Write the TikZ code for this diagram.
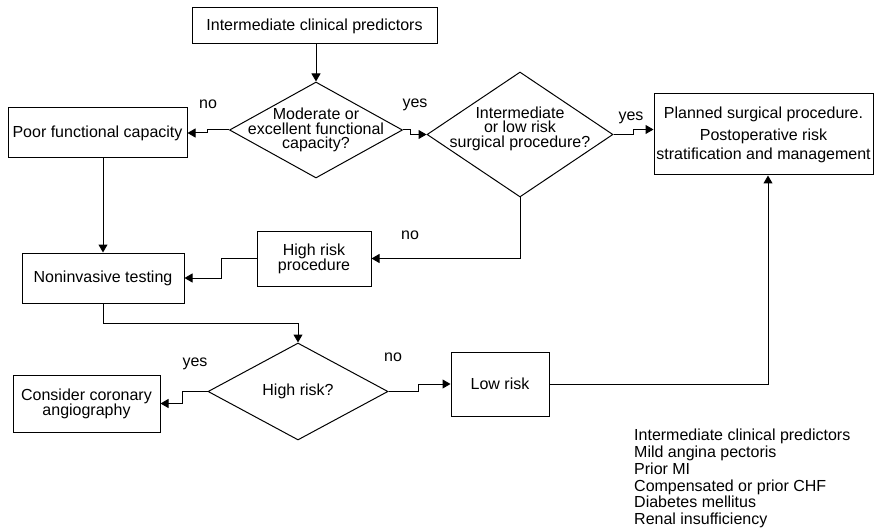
\documentclass[tikz,border=0pt]{standalone}
\usepackage{fontspec}
\setmainfont{Liberation Sans}
\usetikzlibrary{shapes.geometric,arrows.meta}

\begin{document}
\begin{tikzpicture}[x=1pt,y=-1pt,
  every node/.style={font=\fontsize{16}{15}\selectfont},
  box/.style={draw,line width=1pt,rectangle,inner sep=2pt,align=center},
  decision/.style={draw,line width=1pt,diamond,inner sep=0pt},
  dtext/.style={align=center,inner sep=0pt,font=\fontsize{16}{14.6}\selectfont},
  arr/.style={line width=1pt,-{Triangle[length=8pt,width=9pt]}},
  lbl/.style={inner sep=0pt}]

\useasboundingbox (0,0) rectangle (874,529);

% boxes
\node[box,minimum width=245pt,minimum height=36pt] (top) at (314.5,26) {Intermediate clinical predictors};
\node[box,minimum width=179pt,minimum height=50pt] (poor) at (97.5,133) {Poor functional capacity};
\node[box,minimum width=162pt,minimum height=50pt] (nonin) at (103,278) {Noninvasive testing};
\node[box,minimum width=114pt,minimum height=55pt] (hrp) at (314,258.5) {High risk\\procedure};
\node[box,minimum width=219pt,minimum height=81pt,inner sep=1pt,font=\fontsize{16}{19}\selectfont] (plan) at (763.5,134.5)
  {Planned surgical procedure.\\[3pt]Postoperative risk\\stratification and management};
\node[box,minimum width=147pt,minimum height=57pt] (cca) at (86.5,403.5) {Consider coronary\\angiography};
\node[box,minimum width=98pt,minimum height=64pt] (low) at (500,384) {Low risk};

% decisions
\node[decision,minimum width=173pt,minimum height=96pt,
  label={[dtext]center:Moderate or\\excellent functional\\capacity?}] (d1) at (316,130) {};
\node[decision,minimum width=186pt,minimum height=125pt,
  label={[dtext,yshift=6pt]center:Intermediate\\or low risk\\surgical procedure?}] (d2) at (520,134.5) {};
\node[decision,minimum width=180pt,minimum height=97pt,
  label={[dtext]center:High risk?}] (d3) at (298,391.5) {};

% connectors
\draw[arr] (top.south -| d1.north) -- (d1.north);
\draw[arr] (d1.west) -- ++(-22,0) |- (poor.east);
\draw[arr] (d1.east) -- ++(7,0) |- (d2.west);
\draw[arr] (d2.east) -- ++(20,0) |- ([yshift=5pt]plan.west);
\draw[arr] (poor.south -| nonin.north) -- (nonin.north);
\draw[arr] (d2.south) |- (hrp.east);
\draw[arr] (hrp.west) -- ++(-35,0) |- (nonin.east);
\draw[arr] (nonin.south) -- ++(0,20) -| (d3.north);
\draw[arr] (d3.west) -- ++(-25,0) |- (cca.east);
\draw[arr] (d3.east) -- ++(30,0) |- (low.west);
\draw[arr] (low.east) -| ([xshift=4.5pt]plan.south);

% branch labels
\node[lbl] (l1) at (208,104) {no};
\node[lbl] (l2) at (415,105) {yes};
\node[lbl] (l3) at (631,118) {yes};
\node[lbl] (l4) at (410,235) {no};
\node[lbl] (l5) at (195,364) {yes};
\node[lbl] (l6) at (393,357) {no};

% list of predictors
\node[anchor=north west,align=left,inner sep=0pt,font=\fontsize{16}{16.8}\selectfont] (legend) at (634,429)
  {Intermediate clinical predictors\\Mild angina pectoris\\Prior MI\\Compensated or prior CHF\\Diabetes mellitus\\Renal insufficiency};

\end{tikzpicture}
\end{document}
